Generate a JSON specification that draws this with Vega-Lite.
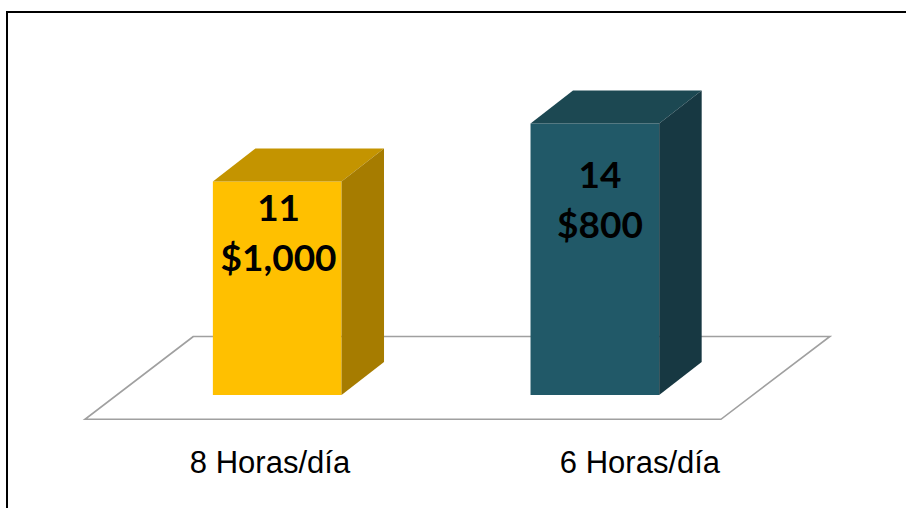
{
  "$schema": "https://vega.github.io/schema/vega-lite/v6.json",
  "width": 906,
  "height": 508,
  "autosize": {"type": "fit", "contains": "padding"},
  "padding": 0,
  "background": "white",
  "config": {"view": {"stroke": null}},
  "datasets": {
    "jornadas": [
      {"jornada": "8 Horas/día", "personas": 11, "pago": "$1,000", "orden": 1},
      {"jornada": "6 Horas/día", "personas": 14, "pago": "$800", "orden": 2}
    ],
    "piso": [{"borde": "frente", "p": 0}, {"borde": "fondo", "p": 1}],
    "marco": [{"marco": "borde"}]
  },
  "data": {"name": "jornadas"},
  "resolve": {"scale": {"color": "independent"}},
  "layer": [
    {
      "data": {"name": "marco"},
      "mark": {"type": "rect", "filled": false, "stroke": "black", "strokeWidth": 2, "clip": true},
      "encoding": {
        "x": {"datum": 0.1494, "type": "quantitative", "scale": {"domain": [0.12734, 2.97954], "nice": false, "zero": false}, "axis": null},
        "x2": {"datum": 3.2},
        "y": {"datum": 19.742, "type": "quantitative", "scale": {"domain": [-5.8247, 20.3608], "nice": false, "zero": false}, "axis": null},
        "y2": {"datum": -8}
      }
    },
    {
      "data": {"name": "piso"},
      "transform": [
        {"calculate": "datum.p == 0 ? -1.253 : 3.015", "as": "fy"},
        {"calculate": "0.395 + datum.p * 0.341", "as": "fx0"},
        {"calculate": "2.397 + datum.p * 0.343", "as": "fx1"}
      ],
      "mark": {"type": "area", "orient": "horizontal", "fill": "white", "stroke": "#A0A0A0", "strokeWidth": 1.6},
      "encoding": {
        "y": {"field": "fy", "type": "quantitative", "scale": {"domain": [-5.8247, 20.3608], "nice": false, "zero": false}, "axis": null},
        "x": {"field": "fx0", "type": "quantitative", "scale": {"domain": [0.12734, 2.97954], "nice": false, "zero": false}, "axis": null},
        "x2": {"field": "fx1"}
      }
    },
    {
      "transform": [
        {"calculate": "datum.orden - 0.2025", "as": "fx0"},
        {"calculate": "datum.orden + 0.2025", "as": "fx1"}
      ],
      "mark": {"type": "rect"},
      "encoding": {
        "x": {"field": "fx0", "type": "quantitative", "scale": {"domain": [0.12734, 2.97954], "nice": false, "zero": false}, "axis": null},
        "x2": {"field": "fx1"},
        "y": {"field": "personas", "type": "quantitative", "scale": {"domain": [-5.8247, 20.3608], "nice": false, "zero": false}, "axis": null},
        "y2": {"datum": 0},
        "color": {"field": "jornada", "type": "nominal", "scale": {"domain": ["8 Horas/día", "6 Horas/día"], "range": ["#FFC000", "#215968"]}, "legend": null}
      }
    },
    {
      "transform": [
        {"calculate": "0", "as": "a"},
        {"calculate": "1", "as": "b"},
        {"fold": ["a", "b"], "as": ["k", "d"]},
        {"calculate": "datum.personas + datum.d * 1.701", "as": "ty"},
        {"calculate": "datum.orden - 0.2025 + datum.d * 0.1338", "as": "tx0"},
        {"calculate": "datum.orden + 0.2025 + datum.d * 0.1338", "as": "tx1"}
      ],
      "mark": {"type": "area", "orient": "horizontal"},
      "encoding": {
        "y": {"field": "ty", "type": "quantitative", "scale": {"domain": [-5.8247, 20.3608], "nice": false, "zero": false}, "axis": null},
        "x": {"field": "tx0", "type": "quantitative", "scale": {"domain": [0.12734, 2.97954], "nice": false, "zero": false}, "axis": null},
        "x2": {"field": "tx1"},
        "color": {"field": "jornada", "type": "nominal", "scale": {"domain": ["8 Horas/día", "6 Horas/día"], "range": ["#C49400", "#1C4852"]}, "legend": null}
      }
    },
    {
      "transform": [
        {"calculate": "0", "as": "a"},
        {"calculate": "1", "as": "b"},
        {"fold": ["a", "b"], "as": ["k", "d"]},
        {"calculate": "datum.orden + 0.2025 + datum.d * 0.1338", "as": "sx"},
        {"calculate": "datum.d * 1.701", "as": "sy0"},
        {"calculate": "datum.personas + datum.d * 1.701", "as": "sy1"}
      ],
      "mark": {"type": "area", "orient": "vertical"},
      "encoding": {
        "x": {"field": "sx", "type": "quantitative", "scale": {"domain": [0.12734, 2.97954], "nice": false, "zero": false}, "axis": null},
        "y": {"field": "sy1", "type": "quantitative", "scale": {"domain": [-5.8247, 20.3608], "nice": false, "zero": false}, "axis": null},
        "y2": {"field": "sy0"},
        "color": {"field": "jornada", "type": "nominal", "scale": {"domain": ["8 Horas/día", "6 Horas/día"], "range": ["#A67C00", "#173842"]}, "legend": null}
      }
    },
    {
      "transform": [
        {"calculate": "datum.personas + '\\n' + datum.pago", "as": "lbl"},
        {"calculate": "datum.orden * 1.0118 - 0.0074", "as": "lx"},
        {"calculate": "0.567 * datum.personas + 3.28", "as": "ly"}
      ],
      "mark": {"type": "text", "font": "Lato", "fontWeight": "bold", "fontSize": 37, "lineBreak": "\n", "lineHeight": 50, "align": "center", "baseline": "middle", "color": "black"},
      "encoding": {
        "x": {"field": "lx", "type": "quantitative", "scale": {"domain": [0.12734, 2.97954], "nice": false, "zero": false}, "axis": null},
        "y": {"field": "ly", "type": "quantitative", "scale": {"domain": [-5.8247, 20.3608], "nice": false, "zero": false}, "axis": null},
        "text": {"field": "lbl"}
      }
    },
    {
      "transform": [
        {"calculate": "datum.orden * 1.1648 - 0.1875", "as": "cx"},
        {"calculate": "-4.036", "as": "cy"}
      ],
      "mark": {"type": "text", "font": "Liberation Sans", "fontSize": 31, "align": "center", "baseline": "alphabetic", "color": "black"},
      "encoding": {
        "x": {"field": "cx", "type": "quantitative", "scale": {"domain": [0.12734, 2.97954], "nice": false, "zero": false}, "axis": null},
        "y": {"field": "cy", "type": "quantitative", "scale": {"domain": [-5.8247, 20.3608], "nice": false, "zero": false}, "axis": null},
        "text": {"field": "jornada"}
      }
    }
  ]
}
